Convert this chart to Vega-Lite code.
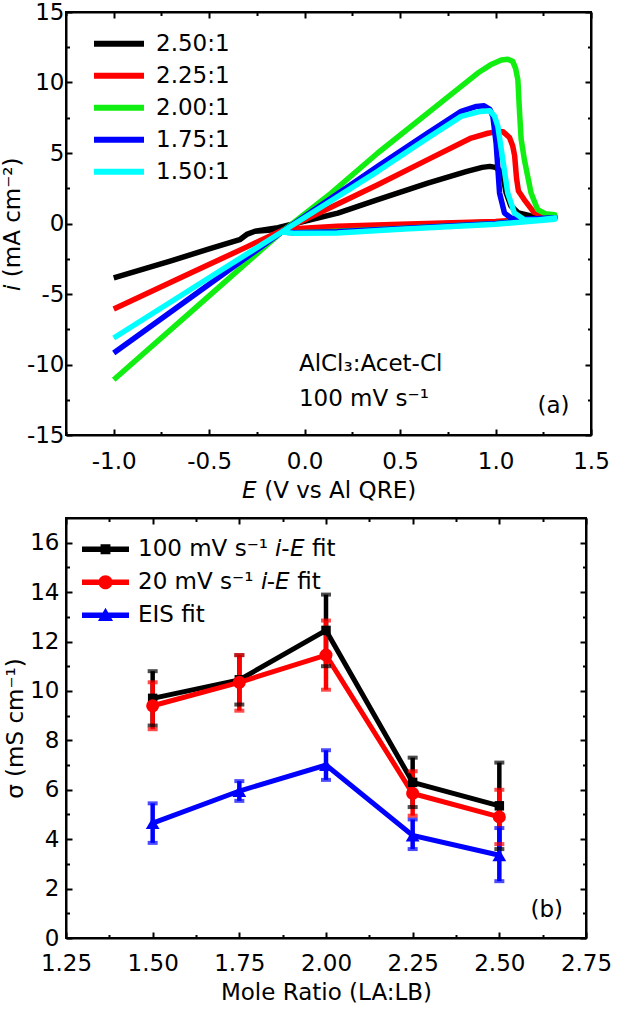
{
  "$schema": "https://vega.github.io/schema/vega-lite/v6.json",
  "padding": {"left": 0, "top": 0, "right": 0, "bottom": 0},
  "config": {
    "font": "DejaVu Sans",
    "view": {"stroke": "black", "strokeWidth": 2},
    "axis": {
      "grid": false, "domainColor": "black", "domainWidth": 2, "tickColor": "black", "tickWidth": 2,
      "labelFont": "DejaVu Sans", "labelFontSize": 23, "labelColor": "black",
      "titleFont": "DejaVu Sans", "titleFontSize": 23, "titleColor": "black", "titleFontWeight": "normal",
      "labelFlush": false, "labelOverlap": false
    },
    "legend": {"labelFont": "DejaVu Sans", "labelFontSize": 23, "labelColor": "black", "labelLimit": 0}
  },
  "datasets": {
    "cv": [
      {"ratio": "2.50:1", "k": 0, "E": -1.0, "i": -3.85},
      {"ratio": "2.50:1", "k": 1, "E": -0.7, "i": -2.65},
      {"ratio": "2.50:1", "k": 2, "E": -0.5, "i": -1.8},
      {"ratio": "2.50:1", "k": 3, "E": -0.34, "i": -1.15},
      {"ratio": "2.50:1", "k": 4, "E": -0.3, "i": -0.75},
      {"ratio": "2.50:1", "k": 5, "E": -0.26, "i": -0.55},
      {"ratio": "2.50:1", "k": 6, "E": -0.14, "i": -0.3},
      {"ratio": "2.50:1", "k": 7, "E": -0.05, "i": 0.0},
      {"ratio": "2.50:1", "k": 8, "E": 0.174, "i": 0.74},
      {"ratio": "2.50:1", "k": 9, "E": 0.383, "i": 1.69},
      {"ratio": "2.50:1", "k": 10, "E": 0.645, "i": 2.87},
      {"ratio": "2.50:1", "k": 11, "E": 0.85, "i": 3.7},
      {"ratio": "2.50:1", "k": 12, "E": 0.93, "i": 3.98},
      {"ratio": "2.50:1", "k": 13, "E": 0.97, "i": 4.05},
      {"ratio": "2.50:1", "k": 14, "E": 1.0, "i": 3.98},
      {"ratio": "2.50:1", "k": 15, "E": 1.02, "i": 3.8},
      {"ratio": "2.50:1", "k": 16, "E": 1.04, "i": 3.3},
      {"ratio": "2.50:1", "k": 17, "E": 1.055, "i": 2.2},
      {"ratio": "2.50:1", "k": 18, "E": 1.08, "i": 1.25},
      {"ratio": "2.50:1", "k": 19, "E": 1.12, "i": 0.75},
      {"ratio": "2.50:1", "k": 20, "E": 1.18, "i": 0.55},
      {"ratio": "2.50:1", "k": 21, "E": 1.25, "i": 0.5},
      {"ratio": "2.50:1", "k": 22, "E": 1.31, "i": 0.5},
      {"ratio": "2.50:1", "k": 23, "E": 1.31, "i": 0.35},
      {"ratio": "2.50:1", "k": 24, "E": 1.1, "i": 0.15},
      {"ratio": "2.50:1", "k": 25, "E": 0.8, "i": 0.02},
      {"ratio": "2.50:1", "k": 26, "E": 0.5, "i": -0.12},
      {"ratio": "2.50:1", "k": 27, "E": 0.2, "i": -0.28},
      {"ratio": "2.50:1", "k": 28, "E": -0.05, "i": -0.4},
      {"ratio": "2.50:1", "k": 29, "E": -0.14, "i": -0.42},
      {"ratio": "2.50:1", "k": 30, "E": -0.26, "i": -0.55},
      {"ratio": "2.50:1", "k": 31, "E": -0.3, "i": -0.75},
      {"ratio": "2.50:1", "k": 32, "E": -0.34, "i": -1.15},
      {"ratio": "2.50:1", "k": 33, "E": -0.5, "i": -1.8},
      {"ratio": "2.50:1", "k": 34, "E": -0.7, "i": -2.65},
      {"ratio": "2.50:1", "k": 35, "E": -1.0, "i": -3.85},
      {"ratio": "2.25:1", "k": 0, "E": -1.0, "i": -6.06},
      {"ratio": "2.25:1", "k": 1, "E": -0.6, "i": -3.53},
      {"ratio": "2.25:1", "k": 2, "E": -0.3, "i": -1.64},
      {"ratio": "2.25:1", "k": 3, "E": -0.12, "i": -0.5},
      {"ratio": "2.25:1", "k": 4, "E": 0.1, "i": 0.9},
      {"ratio": "2.25:1", "k": 5, "E": 0.383, "i": 2.75},
      {"ratio": "2.25:1", "k": 6, "E": 0.645, "i": 4.53},
      {"ratio": "2.25:1", "k": 7, "E": 0.872, "i": 6.06},
      {"ratio": "2.25:1", "k": 8, "E": 0.96, "i": 6.4},
      {"ratio": "2.25:1", "k": 9, "E": 1.0, "i": 6.5},
      {"ratio": "2.25:1", "k": 10, "E": 1.04, "i": 6.5},
      {"ratio": "2.25:1", "k": 11, "E": 1.073, "i": 6.1},
      {"ratio": "2.25:1", "k": 12, "E": 1.09, "i": 5.5},
      {"ratio": "2.25:1", "k": 13, "E": 1.1, "i": 4.8},
      {"ratio": "2.25:1", "k": 14, "E": 1.11, "i": 3.2},
      {"ratio": "2.25:1", "k": 15, "E": 1.12, "i": 2.3},
      {"ratio": "2.25:1", "k": 16, "E": 1.15, "i": 1.7},
      {"ratio": "2.25:1", "k": 17, "E": 1.2, "i": 0.8},
      {"ratio": "2.25:1", "k": 18, "E": 1.25, "i": 0.55},
      {"ratio": "2.25:1", "k": 19, "E": 1.31, "i": 0.5},
      {"ratio": "2.25:1", "k": 20, "E": 1.31, "i": 0.4},
      {"ratio": "2.25:1", "k": 21, "E": 1.0, "i": 0.15},
      {"ratio": "2.25:1", "k": 22, "E": 0.5, "i": -0.05},
      {"ratio": "2.25:1", "k": 23, "E": 0.17, "i": -0.2},
      {"ratio": "2.25:1", "k": 24, "E": -0.05, "i": -0.38},
      {"ratio": "2.25:1", "k": 25, "E": -0.12, "i": -0.5},
      {"ratio": "2.25:1", "k": 26, "E": -0.3, "i": -1.64},
      {"ratio": "2.25:1", "k": 27, "E": -0.6, "i": -3.53},
      {"ratio": "2.25:1", "k": 28, "E": -1.0, "i": -6.06},
      {"ratio": "2.00:1", "k": 0, "E": -1.0, "i": -11.08},
      {"ratio": "2.00:1", "k": 1, "E": -0.6, "i": -6.32},
      {"ratio": "2.00:1", "k": 2, "E": -0.3, "i": -2.74},
      {"ratio": "2.00:1", "k": 3, "E": -0.12, "i": -0.6},
      {"ratio": "2.00:1", "k": 4, "E": 0.139, "i": 2.16},
      {"ratio": "2.00:1", "k": 5, "E": 0.383, "i": 5.0},
      {"ratio": "2.00:1", "k": 6, "E": 0.733, "i": 8.78},
      {"ratio": "2.00:1", "k": 7, "E": 0.907, "i": 10.67},
      {"ratio": "2.00:1", "k": 8, "E": 0.98, "i": 11.3},
      {"ratio": "2.00:1", "k": 9, "E": 1.03, "i": 11.6},
      {"ratio": "2.00:1", "k": 10, "E": 1.064, "i": 11.65},
      {"ratio": "2.00:1", "k": 11, "E": 1.09, "i": 11.5},
      {"ratio": "2.00:1", "k": 12, "E": 1.105, "i": 11.0},
      {"ratio": "2.00:1", "k": 13, "E": 1.117, "i": 10.2},
      {"ratio": "2.00:1", "k": 14, "E": 1.125, "i": 8.07},
      {"ratio": "2.00:1", "k": 15, "E": 1.134, "i": 6.0},
      {"ratio": "2.00:1", "k": 16, "E": 1.151, "i": 4.53},
      {"ratio": "2.00:1", "k": 17, "E": 1.186, "i": 2.16},
      {"ratio": "2.00:1", "k": 18, "E": 1.221, "i": 0.98},
      {"ratio": "2.00:1", "k": 19, "E": 1.26, "i": 0.7},
      {"ratio": "2.00:1", "k": 20, "E": 1.31, "i": 0.62},
      {"ratio": "2.00:1", "k": 21, "E": 1.31, "i": 0.4},
      {"ratio": "2.00:1", "k": 22, "E": 1.0, "i": 0.0},
      {"ratio": "2.00:1", "k": 23, "E": 0.5, "i": -0.35},
      {"ratio": "2.00:1", "k": 24, "E": 0.17, "i": -0.55},
      {"ratio": "2.00:1", "k": 25, "E": -0.05, "i": -0.65},
      {"ratio": "2.00:1", "k": 26, "E": -0.12, "i": -0.6},
      {"ratio": "2.00:1", "k": 27, "E": -0.3, "i": -2.74},
      {"ratio": "2.00:1", "k": 28, "E": -0.6, "i": -6.32},
      {"ratio": "2.00:1", "k": 29, "E": -1.0, "i": -11.08},
      {"ratio": "1.75:1", "k": 0, "E": -1.0, "i": -9.18},
      {"ratio": "1.75:1", "k": 1, "E": -0.6, "i": -5.28},
      {"ratio": "1.75:1", "k": 2, "E": -0.3, "i": -2.36},
      {"ratio": "1.75:1", "k": 3, "E": -0.12, "i": -0.6},
      {"ratio": "1.75:1", "k": 4, "E": 0.383, "i": 4.06},
      {"ratio": "1.75:1", "k": 5, "E": 0.645, "i": 6.42},
      {"ratio": "1.75:1", "k": 6, "E": 0.82, "i": 7.96},
      {"ratio": "1.75:1", "k": 7, "E": 0.9, "i": 8.3},
      {"ratio": "1.75:1", "k": 8, "E": 0.94, "i": 8.35},
      {"ratio": "1.75:1", "k": 9, "E": 0.97, "i": 8.1},
      {"ratio": "1.75:1", "k": 10, "E": 0.986, "i": 7.6},
      {"ratio": "1.75:1", "k": 11, "E": 1.003, "i": 5.7},
      {"ratio": "1.75:1", "k": 12, "E": 1.021, "i": 2.16},
      {"ratio": "1.75:1", "k": 13, "E": 1.047, "i": 0.74},
      {"ratio": "1.75:1", "k": 14, "E": 1.081, "i": 0.39},
      {"ratio": "1.75:1", "k": 15, "E": 1.15, "i": 0.3},
      {"ratio": "1.75:1", "k": 16, "E": 1.31, "i": 0.4},
      {"ratio": "1.75:1", "k": 17, "E": 1.31, "i": 0.35},
      {"ratio": "1.75:1", "k": 18, "E": 1.0, "i": 0.0},
      {"ratio": "1.75:1", "k": 19, "E": 0.5, "i": -0.35},
      {"ratio": "1.75:1", "k": 20, "E": 0.17, "i": -0.58},
      {"ratio": "1.75:1", "k": 21, "E": -0.05, "i": -0.65},
      {"ratio": "1.75:1", "k": 22, "E": -0.12, "i": -0.6},
      {"ratio": "1.75:1", "k": 23, "E": -0.3, "i": -2.36},
      {"ratio": "1.75:1", "k": 24, "E": -0.6, "i": -5.28},
      {"ratio": "1.75:1", "k": 25, "E": -1.0, "i": -9.18},
      {"ratio": "1.50:1", "k": 0, "E": -1.0, "i": -8.12},
      {"ratio": "1.50:1", "k": 1, "E": -0.6, "i": -4.7},
      {"ratio": "1.50:1", "k": 2, "E": -0.3, "i": -2.14},
      {"ratio": "1.50:1", "k": 3, "E": -0.12, "i": -0.6},
      {"ratio": "1.50:1", "k": 4, "E": 0.383, "i": 3.7},
      {"ratio": "1.50:1", "k": 5, "E": 0.645, "i": 6.06},
      {"ratio": "1.50:1", "k": 6, "E": 0.82, "i": 7.6},
      {"ratio": "1.50:1", "k": 7, "E": 0.92, "i": 7.95},
      {"ratio": "1.50:1", "k": 8, "E": 0.97, "i": 8.0},
      {"ratio": "1.50:1", "k": 9, "E": 0.995, "i": 7.6},
      {"ratio": "1.50:1", "k": 10, "E": 1.012, "i": 6.9},
      {"ratio": "1.50:1", "k": 11, "E": 1.038, "i": 4.53},
      {"ratio": "1.50:1", "k": 12, "E": 1.064, "i": 2.16},
      {"ratio": "1.50:1", "k": 13, "E": 1.099, "i": 0.74},
      {"ratio": "1.50:1", "k": 14, "E": 1.151, "i": 0.27},
      {"ratio": "1.50:1", "k": 15, "E": 1.22, "i": 0.25},
      {"ratio": "1.50:1", "k": 16, "E": 1.31, "i": 0.4},
      {"ratio": "1.50:1", "k": 17, "E": 1.31, "i": 0.3},
      {"ratio": "1.50:1", "k": 18, "E": 1.0, "i": -0.05},
      {"ratio": "1.50:1", "k": 19, "E": 0.5, "i": -0.4},
      {"ratio": "1.50:1", "k": 20, "E": 0.17, "i": -0.67},
      {"ratio": "1.50:1", "k": 21, "E": -0.05, "i": -0.7},
      {"ratio": "1.50:1", "k": 22, "E": -0.12, "i": -0.6},
      {"ratio": "1.50:1", "k": 23, "E": -0.3, "i": -2.14},
      {"ratio": "1.50:1", "k": 24, "E": -0.6, "i": -4.7},
      {"ratio": "1.50:1", "k": 25, "E": -1.0, "i": -8.12}
    ],
    "notesA": [
      {"x": -0.03, "y": -9.97, "label": "AlCl₃:Acet-Cl"},
      {"x": -0.03, "y": -12.45, "label": "100 mV s⁻¹"},
      {"x": 1.22, "y": -12.93, "label": "(a)"}
    ],
    "sigma": [
      {"r": 1.5, "s": "a", "v": 9.7, "lo": 8.6, "hi": 10.8},
      {"r": 1.75, "s": "a", "v": 10.45, "lo": 9.45, "hi": 11.45},
      {"r": 2.0, "s": "a", "v": 12.45, "lo": 11.0, "hi": 13.9},
      {"r": 2.25, "s": "a", "v": 6.3, "lo": 5.3, "hi": 7.3},
      {"r": 2.5, "s": "a", "v": 5.35, "lo": 3.6, "hi": 7.1},
      {"r": 1.5, "s": "b", "v": 9.4, "lo": 8.45, "hi": 10.35},
      {"r": 1.75, "s": "b", "v": 10.35, "lo": 9.2, "hi": 11.45},
      {"r": 2.0, "s": "b", "v": 11.45, "lo": 10.05, "hi": 12.85},
      {"r": 2.25, "s": "b", "v": 5.85, "lo": 4.95, "hi": 6.75},
      {"r": 2.5, "s": "b", "v": 4.9, "lo": 3.8, "hi": 6.0},
      {"r": 1.5, "s": "c", "v": 4.65, "lo": 3.85, "hi": 5.45},
      {"r": 1.75, "s": "c", "v": 5.95, "lo": 5.55, "hi": 6.35},
      {"r": 2.0, "s": "c", "v": 7.0, "lo": 6.4, "hi": 7.6},
      {"r": 2.25, "s": "c", "v": 4.15, "lo": 3.6, "hi": 4.8},
      {"r": 2.5, "s": "c", "v": 3.35, "lo": 2.3, "hi": 4.45}
    ],
    "notesB": [
      {"x": 2.59, "y": 1.13, "label": "(b)"}
    ]
  },
  "resolve": {"scale": {"color": "independent"}, "legend": {"color": "independent"}},
  "spacing": 12,
  "vconcat": [
    {
      "width": 525,
      "height": 423,
      "layer": [
        {
          "data": {"name": "cv"},
          "mark": {"type": "line", "strokeWidth": 5.5, "strokeJoin": "round", "clip": true},
          "encoding": {
            "x": {
              "field": "E", "type": "quantitative",
              "scale": {"domain": [-1.25, 1.5], "nice": false, "zero": false},
              "axis": {
                "orient": "bottom",
                "values": [-1.25, -1, -0.75, -0.5, -0.25, 0, 0.25, 0.5, 0.75, 1, 1.25, 1.5],
                "labelExpr": "abs(datum.value*2-round(datum.value*2))<0.001 ? replace(format(datum.value,'.1f'),'\u2212','-') : ''",
                "tickSize": {"condition": {"test": "abs(datum.value*2-round(datum.value*2))<0.001", "value": -6}, "value": -3.5},
                "labelPadding": 21,
                "title": "𝘌 (V vs Al QRE)",
                "titlePadding": 4
              }
            },
            "y": {
              "field": "i", "type": "quantitative",
              "scale": {"domain": [-15, 15], "nice": false},
              "axis": {
                "orient": "left",
                "values": [-15, -12.5, -10, -7.5, -5, -2.5, 0, 2.5, 5, 7.5, 10, 12.5, 15],
                "labelExpr": "datum.value % 5 == 0 ? replace(format(datum.value,'d'),'\u2212','-') : ''",
                "tickSize": {"condition": {"test": "datum.value % 5 == 0", "value": -6}, "value": -3.5},
                "labelPadding": 8,
                "title": "𝘪 (mA cm⁻²)",
                "titlePadding": 2
              }
            },
            "color": {
              "field": "ratio", "type": "nominal",
              "scale": {"domain": ["2.50:1", "2.25:1", "2.00:1", "1.75:1", "1.50:1"], "range": ["#000000", "#ff0000", "#11ee11", "#0000ff", "#00ffff"]},
              "legend": {
                "orient": "none", "legendX": 25, "legendY": 16, "title": null,
                "symbolType": "stroke", "symbolSize": 2500, "symbolStrokeWidth": 6,
                "clipHeight": 31.7, "rowPadding": 0, "padding": 0, "labelOffset": 9
              }
            },
            "order": {"field": "k", "type": "quantitative"}
          }
        },
        {
          "data": {"name": "notesA"},
          "mark": {"type": "text", "align": "left", "baseline": "middle", "fontSize": 23, "color": "black"},
          "encoding": {
            "x": {
              "field": "x", "type": "quantitative",
              "axis": {
                "orient": "top", "labels": false, "title": null,
                "values": [-1.25, -1, -0.75, -0.5, -0.25, 0, 0.25, 0.5, 0.75, 1, 1.25, 1.5],
                "tickSize": {"condition": {"test": "abs(datum.value*2-round(datum.value*2))<0.001", "value": -6}, "value": -3.5}
              }
            },
            "y": {
              "field": "y", "type": "quantitative",
              "axis": {
                "orient": "right", "labels": false, "title": null,
                "values": [-15, -12.5, -10, -7.5, -5, -2.5, 0, 2.5, 5, 7.5, 10, 12.5, 15],
                "tickSize": {"condition": {"test": "datum.value % 5 == 0", "value": -6}, "value": -3.5}
              }
            },
            "text": {"field": "label", "type": "nominal"}
          }
        }
      ],
      "resolve": {"axis": {"x": "independent", "y": "independent"}}
    },
    {
      "width": 520,
      "height": 420,
      "layer": [
        {
          "data": {"name": "sigma"},
          "mark": {"type": "rule", "strokeWidth": 4.5},
          "encoding": {
            "x": {
              "field": "r", "type": "quantitative",
              "scale": {"domain": [1.25, 2.75], "nice": false, "zero": false},
              "axis": {
                "orient": "bottom",
                "values": [1.25, 1.375, 1.5, 1.625, 1.75, 1.875, 2, 2.125, 2.25, 2.375, 2.5, 2.625, 2.75],
                "labelExpr": "abs(datum.value*4-round(datum.value*4))<0.001 ? format(datum.value,'.2f') : ''",
                "tickSize": {"condition": {"test": "abs(datum.value*4-round(datum.value*4))<0.001", "value": -6}, "value": -3.5},
                "labelPadding": 20,
                "title": "Mole Ratio (LA:LB)",
                "titlePadding": 4
              }
            },
            "y": {
              "field": "lo", "type": "quantitative",
              "scale": {"domain": [0, 17], "nice": false},
              "axis": {
                "orient": "left",
                "values": [0, 1, 2, 3, 4, 5, 6, 7, 8, 9, 10, 11, 12, 13, 14, 15, 16],
                "labelExpr": "datum.value % 2 == 0 ? format(datum.value,'d') : ''",
                "tickSize": {"condition": {"test": "datum.value % 2 == 0", "value": -6}, "value": -3.5},
                "labelPadding": 13,
                "title": "σ (mS cm⁻¹)",
                "titlePadding": 2
              }
            },
            "y2": {"field": "hi"},
            "color": {
              "field": "s", "type": "nominal",
              "scale": {"domain": ["a", "b", "c"], "range": ["#000000", "#ff0000", "#0000ff"]},
              "legend": {
                "orient": "none", "legendX": 16, "legendY": 15, "title": null,
                "labelExpr": "datum.value == 'a' ? '100 mV s⁻¹ 𝘪-𝘌 fit' : datum.value == 'b' ? '20 mV s⁻¹ 𝘪-𝘌 fit' : 'EIS fit'",
                "symbolSize": 2209, "symbolStrokeWidth": 0, "clipHeight": 32.5, "rowPadding": 0, "padding": 0, "labelOffset": 9,
                "encode": {
                  "symbols": {
                    "update": {
                      "shape": {"signal": "datum.value == 'a' ? 'M-1,-0.12H1V0.12H-1Z M-0.21,-0.21H0.21V0.21H-0.21Z' : datum.value == 'b' ? 'M-1,-0.12H1V0.12H-1Z M-0.3,0A0.3,0.3 0 1,1 0.3,0A0.3,0.3 0 1,1 -0.3,0Z' : 'M-1,-0.12H1V0.12H-1Z M0,-0.32L0.32,0.24L-0.32,0.24Z'"},
                      "fill": {"signal": "datum.value == 'a' ? '#000000' : datum.value == 'b' ? '#ff0000' : '#0000ff'"},
                      "strokeWidth": {"value": 0},
                      "opacity": {"value": 1},
                      "size": {"value": 2209}
                    }
                  }
                }
              }
            }
          }
        },
        {
          "data": {"name": "sigma"},
          "mark": {"type": "line", "strokeWidth": 5},
          "encoding": {
            "x": {"field": "r", "type": "quantitative", "axis": null},
            "y": {"field": "v", "type": "quantitative", "axis": null},
            "color": {"field": "s", "type": "nominal"}
          }
        },
        {
          "data": {"name": "sigma"},
          "mark": {"type": "tick", "orient": "horizontal", "size": 10, "thickness": 4},
          "encoding": {
            "x": {"field": "r", "type": "quantitative", "axis": null},
            "y": {"field": "hi", "type": "quantitative", "axis": null},
            "color": {"field": "s", "type": "nominal"}
          }
        },
        {
          "data": {"name": "sigma"},
          "mark": {"type": "tick", "orient": "horizontal", "size": 10, "thickness": 4},
          "encoding": {
            "x": {"field": "r", "type": "quantitative", "axis": null},
            "y": {"field": "lo", "type": "quantitative", "axis": null},
            "color": {"field": "s", "type": "nominal"}
          }
        },
        {
          "data": {"name": "sigma"},
          "transform": [{"filter": "datum.s == 'a'"}],
          "mark": {"type": "point", "filled": true, "opacity": 1, "shape": "square", "size": 90},
          "encoding": {
            "x": {"field": "r", "type": "quantitative", "axis": null},
            "y": {"field": "v", "type": "quantitative", "axis": null},
            "color": {"field": "s", "type": "nominal"}
          }
        },
        {
          "data": {"name": "sigma"},
          "transform": [{"filter": "datum.s == 'b'"}],
          "mark": {"type": "point", "filled": true, "opacity": 1, "shape": "circle", "size": 170},
          "encoding": {
            "x": {"field": "r", "type": "quantitative", "axis": null},
            "y": {"field": "v", "type": "quantitative", "axis": null},
            "color": {"field": "s", "type": "nominal"}
          }
        },
        {
          "data": {"name": "sigma"},
          "transform": [{"filter": "datum.s == 'c'"}],
          "mark": {"type": "point", "filled": true, "opacity": 1, "shape": "triangle-up", "size": 190},
          "encoding": {
            "x": {"field": "r", "type": "quantitative", "axis": null},
            "y": {"field": "v", "type": "quantitative", "axis": null},
            "color": {"field": "s", "type": "nominal"}
          }
        },
        {
          "data": {"name": "notesB"},
          "mark": {"type": "text", "align": "left", "baseline": "middle", "fontSize": 23, "color": "black"},
          "encoding": {
            "x": {
              "field": "x", "type": "quantitative",
              "axis": {
                "orient": "top", "labels": false, "title": null,
                "values": [1.25, 1.375, 1.5, 1.625, 1.75, 1.875, 2, 2.125, 2.25, 2.375, 2.5, 2.625, 2.75],
                "tickSize": {"condition": {"test": "abs(datum.value*4-round(datum.value*4))<0.001", "value": -6}, "value": -3.5}
              }
            },
            "y": {
              "field": "y", "type": "quantitative",
              "axis": {
                "orient": "right", "labels": false, "title": null,
                "values": [0, 1, 2, 3, 4, 5, 6, 7, 8, 9, 10, 11, 12, 13, 14, 15, 16],
                "tickSize": {"condition": {"test": "datum.value % 2 == 0", "value": -6}, "value": -3.5}
              }
            },
            "text": {"field": "label", "type": "nominal"}
          }
        }
      ],
      "resolve": {"axis": {"x": "independent", "y": "independent"}}
    }
  ]
}
